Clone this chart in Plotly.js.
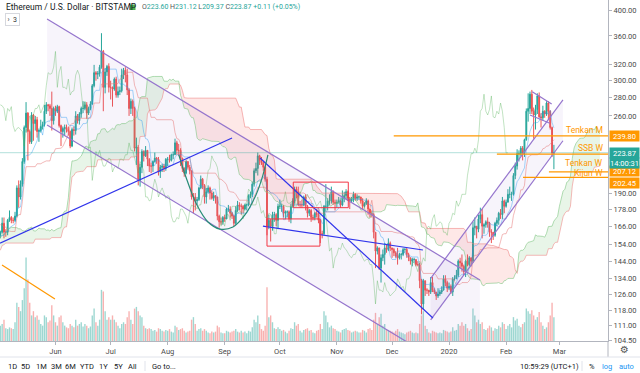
<!DOCTYPE html>
<html><head><meta charset="utf-8">
<script src="https://cdn.plot.ly/plotly-3.0.1.min.js"></script>
<style>html,body{margin:0;padding:0;background:#fff}#chart{width:640px;height:373px}</style>
</head><body><div id="chart"></div>
<script>
// ---------- DATA (ETH/USD daily, Bitstamp) ----------
const PRE_START = '2019-02-14';   // history used only by the Ichimoku indicator (off-screen)
const VIS_START = '2019-05-02';
const preHigh = [123,125,127,137,149,152,150,150,150,164,165,141,140,140,140,
  139,137,135,133,140,141,141,141,139,138,138,135,134,134,138,146,145,144,141,140,140,139,140,140,140,135,143,142,145,145,144,
  146,173,180,167,168,172,182,186,180,183,178,167,167,167,170,168,171,176,175,177,175,174,175,171,166,157,159,160,160,164,
  162];
const preLow = [118,119,121,122,133,140,142,141,143,146,133,134,134,129,133,
  134,131,129,124,124,136,137,133,134,134,131,131,130,129,132,136,139,137,137,136,134,135,136,136,131,131,133,138,139,140,140,
  140,143,160,155,160,162,168,173,172,172,158,160,161,162,157,159,164,169,169,170,166,165,167,161,149,148,153,154,153,155,
  157];
const firstOpen = 160;
const close = [
  162,168,162,162,170,172,170,170,173,194,187,197,216,248,263,244,234,261,252,256,244,245,249,251,265,272,271,268,255,268,
  265,270,250,244,247,248,246,244,230,246,245,260,255,262,268,268,272,263,268,273,294,310,308,309,317,338,292,311,318,292,
  292,290,302,283,287,288,307,313,307,289,268,276,268,228,229,200,211,225,221,226,218,212,212,216,219,218,207,211,212,210,218,
  218,217,222,222,233,226,226,219,210,206,216,211,208,187,187,184,185,194,201,196,187,191,194,190,186,188,187,173,169,169,172,
  171,178,178,175,173,168,177,181,180,180,178,181,181,188,189,197,208,210,221,217,215,211,201,166,170,166,174,174,170,180,
  180,180,175,176,176,171,180,184,193,191,181,181,181,187,180,175,177,172,172,175,174,170,161,161,180,180,184,184,191,183,182,
  183,184,181,186,188,191,186,184,185,189,186,187,187,184,180,182,184,178,175,174,162,150,152,140,146,148,152,151,155,152,
  151,149,147,146,148,148,151,151,148,146,144,145,145,142,142,133,121,133,128,128,127,132,128,127,125,126,127,128,134,132,129,
  130,127,134,134,136,144,143,141,138,144,142,146,144,165,166,164,171,174,166,167,169,168,162,162,160,168,170,175,174,184,180,
  183,189,189,189,204,212,223,223,228,224,236,265,268,284,265,261,267,282,259,258,265,262,274,265,248,223.60,223.87];
const high = [
  163,172,172,164,171,177,173,172,176,196,200,200,219,250,275,264,246,264,262,260,259,247,256,254,272,275,273,273,287,270,
  271,272,271,251,249,251,251,249,245,248,249,265,262,264,270,276,275,275,270,276,296,320,312,312,320,364,340,316,320,322,
  300,293,304,305,293,293,315,316,317,315,291,279,278,270,238,231,214,227,226,230,226,219,215,217,224,220,220,213,214,214,219,
  220,222,223,225,237,235,232,228,219,211,217,216,213,208,190,190,187,195,204,202,197,194,196,195,192,191,188,187,174,172,173,
  174,179,181,180,176,174,180,184,183,182,181,182,182,189,191,199,210,215,224,222,220,216,212,203,174,171,176,176,175,182,
  185,182,181,177,177,177,182,186,195,195,195,184,185,188,189,181,178,178,174,176,178,177,171,163,181,197,186,189,195,192,185,
  185,187,185,192,191,193,192,187,187,191,190,189,188,187,186,183,186,185,178,177,175,162,153,152,148,151,155,154,158,156,
  152,152,150,152,149,149,152,152,152,149,146,146,146,145,144,143,134,134,133,129,128,135,135,129,127,129,128,130,136,136,133,
  132,131,135,136,139,145,146,148,142,145,148,147,146,169,172,166,174,179,178,168,170,172,169,164,162,169,172,176,178,187,185,
  185,193,195,191,206,215,227,226,230,230,237,268,285,287,289,269,272,285,286,263,271,266,276,276,266,249,231.12];
const low = [
  158,161,158,159,160,169,168,168,169,172,179,185,195,214,243,217,232,232,235,245,238,234,243,246,249,262,265,260,245,251,
  260,263,248,230,238,240,243,240,228,229,240,241,252,251,258,263,266,257,261,266,272,292,300,302,305,315,265,285,306,286,
  278,270,288,280,280,283,286,302,298,283,260,262,260,225,213,196,195,206,216,220,212,207,206,207,215,214,204,202,207,207,208,
  212,215,216,218,222,222,221,212,207,203,205,209,205,185,175,177,181,184,193,193,182,182,190,185,185,184,182,170,165,167,167,
  169,171,176,172,171,166,167,176,177,174,175,177,177,180,186,187,195,206,204,213,213,208,199,160,164,156,163,169,166,164,
  178,176,172,171,172,169,168,179,182,186,180,179,179,180,177,172,173,169,170,170,172,168,155,158,160,176,177,181,182,181,177,
  179,182,179,180,183,186,184,178,183,183,184,184,185,182,178,179,181,174,172,172,158,140,148,139,132,144,142,149,150,150,
  146,147,146,142,145,145,147,149,146,144,142,141,143,141,141,129,116,118,125,126,125,126,127,126,123,124,125,126,128,130,127,
  128,126,125,133,134,135,140,138,136,135,141,141,141,143,160,158,162,168,158,161,165,165,159,155,157,159,166,167,171,171,175,
  179,183,186,184,188,201,209,216,221,217,220,235,254,262,262,237,246,262,258,248,255,258,260,256,246,220,209.37];
const volume = [
  18,20,25,15,14,16,15,14,22,45,40,35,48,62,98,72,45,30,35,28,30,25,20,18,30,28,22,24,42,30,
  22,18,28,30,22,18,16,15,20,18,16,25,18,20,22,17,20,18,15,17,30,38,22,18,25,60,58,35,25,28,
  25,30,25,22,18,15,20,22,20,28,35,25,20,38,40,35,30,28,18,15,14,15,14,12,13,11,15,14,12,11,13,
  12,14,11,10,18,16,13,14,15,12,10,11,12,25,28,20,12,14,15,12,14,12,10,9,11,10,11,18,16,10,9,
  9,12,11,10,11,12,14,11,10,12,10,11,9,12,11,16,25,22,30,20,14,12,18,63,28,30,22,15,14,16,
  14,12,13,11,9,12,15,14,22,18,20,12,10,13,14,15,12,13,10,9,12,13,20,14,35,30,22,16,18,15,14,
  12,11,10,13,14,15,13,12,10,11,12,11,10,10,13,12,10,14,15,13,25,33,20,28,32,18,20,14,13,12,
  11,10,12,14,11,10,9,8,10,11,12,10,9,10,9,20,30,35,18,14,10,9,12,11,10,9,10,9,13,12,11,
  10,11,16,12,13,20,18,22,18,20,15,12,14,38,30,22,25,20,22,14,13,15,18,16,12,15,14,18,16,22,20,
  14,18,20,16,28,24,26,18,16,20,22,38,35,32,36,30,25,28,34,22,18,14,16,22,30,45,28];

// axis labels
const monthTicks = ['2019-06-01','2019-07-01','2019-08-01','2019-09-01','2019-10-01','2019-11-01','2019-12-01','2020-01-01','2020-02-01','2020-03-01'];
const monthLabels = ['Jun','Jul','Aug','Sep','Oct','Nov','Dec','2020','Feb','Mar'];
const priceTicks = [104.5,111,118,126,134,144,154,166,178,190,260,280,300,320,360,400];

// drawings (anchor points: date, price)
const descDates = ['2019-05-27 10:00','2020-01-17 19:00'];
const descUpper = [385.6,133.4];
const descLower = [250.6,86.7];
const ascDates = ['2019-12-22 00:00','2020-03-02 22:00'];
const ascUpper = [134.3,277.4];
const ascLower = [113.4,235.0];
const flagUpperDates = ['2020-02-15 05:00','2020-02-25 19:00'];
const flagUpper = [286.9,272.9];
const flagLowerDates = ['2020-02-14 00:00','2020-02-24 19:00'];
const flagLower = [261.0,252.3];
const blueADates = ['2019-05-01 20:00','2019-09-05 00:00'];
const blueA = [155.0,237.7];
const blueBDates = ['2019-09-21 19:00','2019-12-17 19:00'];
const blueB = [166.1,150.7];
const blueCDates = ['2019-09-20 05:00','2019-12-23 05:00'];
const blueC = [219.1,114.3];
const orangeTrendDates = ['2019-05-02 22:00','2019-05-31 17:00'];
const orangeTrend = [141.8,123.5];
const arcDates = ['2019-08-07 02:00','2019-08-11 12:00','2019-08-16 22:00','2019-08-22 22:00','2019-08-29 10:00','2019-09-05 12:00','2019-09-12 00:00','2019-09-18 00:00','2019-09-21 19:00','2019-09-24 12:00'];
const arcPrices = [221.8,200.3,180.9,168.9,164.1,165.5,173.8,188.5,204.4,221.8];
const rect1Dates = ['2019-09-24 00:00','2019-10-22 19:00'];
const rect1Prices = [171.0,153.1];
const rect2Dates = ['2019-10-08 07:00','2019-11-07 05:00'];
const rect2Prices = [198.6,179.0];
const levelNames = ['Tenkan M','SSB W','Tenkan W','Kijun W'];
const levelPrices = [239.80,222.6,207.12,202.45];
const levelStarts = ['2019-12-01 22:00','2020-01-27 00:00','2020-02-24 07:00','2020-02-10 05:00'];
const lastPrice = 223.87;
const countdown = '14:00:31';

// ---------- BUILD ----------
const X_RANGE = ['2019-05-01 20:00','2020-03-27 10:00'];
function addDays(s,n){const p=s.split('-');return new Date(Date.UTC(+p[0],+p[1]-1,+p[2])+n*86400000).toISOString().slice(0,10);}
const dates = close.map((_,i)=>addDays(VIS_START,i));
const open = [firstOpen].concat(close.slice(0,-1));
const PRE = preHigh.length;
const H = preHigh.concat(high), L = preLow.concat(low), N = H.length;
function mid(p,i){let hi=-Infinity,lo=Infinity;for(let j=Math.max(0,i-p+1);j<=i;j++){if(H[j]>hi)hi=H[j];if(L[j]<lo)lo=L[j];}return (hi+lo)/2;}
const tenkan=[],kijun=[];
for(let i=PRE;i<N;i++){tenkan.push(mid(9,i));kijun.push(mid(26,i));}
const leadDates=[],spanA=[],spanB=[];
for(let i=PRE-25;i<N;i++){leadDates.push(addDays(PRE_START,i+25));spanA.push((mid(9,i)+mid(26,i))/2);spanB.push(mid(52,i));}
const spanMax = spanA.map((a,i)=>Math.max(a,spanB[i]));
const chikDates=[],chik=[];
for(let i=25;i<close.length;i++){chikDates.push(dates[i-25]);chik.push(close[i]);}

const UP='#26a69a', DN='#ef5350';
const volColors = close.map((c,i)=> c>=open[i] ? 'rgba(38,166,154,0.45)' : 'rgba(239,83,80,0.45)');
const PURPLE='rgb(149,117,205)', BLUE='rgb(48,52,235)', ORANGE='#ff9800';

function ln(x,y,color,w,extra){return Object.assign({type:'scatter',mode:'lines',x:x,y:y,yaxis:'y2',line:{color:color,width:w},hoverinfo:'skip',showlegend:false},extra||{});}
function poly(x,y,fill){return {type:'scatter',mode:'lines',x:x,y:y,yaxis:'y2',fill:'toself',fillcolor:fill,line:{width:0},hoverinfo:'skip',showlegend:false};}

const traces = [];
traces.push({type:'bar',x:dates,y:volume,yaxis:'y',marker:{color:volColors},hoverinfo:'skip',showlegend:false});
// channel fills
traces.push(poly([descDates[0],descDates[1],descDates[1],descDates[0]],[descUpper[0],descUpper[1],descLower[1],descLower[0]],'rgba(149,117,205,0.08)'));
traces.push(poly([ascDates[0],ascDates[1],ascDates[1],ascDates[0]],[ascUpper[0],ascUpper[1],ascLower[1],ascLower[0]],'rgba(149,117,205,0.08)'));
// Ichimoku cloud
traces.push(ln(leadDates,spanB,'rgba(239,130,130,0.55)',1));
traces.push(ln(leadDates,spanMax,'rgba(0,0,0,0)',0,{fill:'tonexty',fillcolor:'rgba(76,175,80,0.13)'}));
traces.push(ln(leadDates,spanA,'rgba(129,199,132,0.6)',1));
traces.push(ln(leadDates,spanMax,'rgba(0,0,0,0)',0,{fill:'tonexty',fillcolor:'rgba(244,67,54,0.12)'}));
traces.push(ln(chikDates,chik,'rgba(76,175,80,0.35)',1));
traces.push(ln(dates,kijun,'rgba(229,115,115,0.5)',1));
traces.push(ln(dates,tenkan,'rgba(33,150,243,0.4)',1));
// last price line
traces.push(ln(X_RANGE,[lastPrice,lastPrice],'rgba(38,166,154,0.35)',1));
// candles
traces.push({type:'candlestick',x:dates,open:open,high:high,low:low,close:close,yaxis:'y2',
  increasing:{line:{color:UP,width:1},fillcolor:UP},decreasing:{line:{color:DN,width:1},fillcolor:DN},
  whiskerwidth:0,hoverinfo:'skip',showlegend:false});
// drawings
traces.push(ln(descDates,descUpper,PURPLE,1.2));
traces.push(ln(descDates,descLower,PURPLE,1.2));
traces.push(ln(ascDates,ascUpper,PURPLE,1.2));
traces.push(ln(ascDates,ascLower,PURPLE,1.2));
traces.push(ln(flagUpperDates,flagUpper,PURPLE,1.2));
traces.push(ln(flagLowerDates,flagLower,PURPLE,1.2));
traces.push(ln(blueADates,blueA,BLUE,1.2));
traces.push(ln(blueBDates,blueB,BLUE,1.2));
traces.push(ln(blueCDates,blueC,BLUE,1.2));
traces.push(ln(orangeTrendDates,orangeTrend,ORANGE,1.2));
traces.push(ln(arcDates,arcPrices,'rgb(38,140,118)',1.2,{line:{color:'rgb(38,140,118)',width:1.2,shape:'spline'}}));
[[rect1Dates,rect1Prices],[rect2Dates,rect2Prices]].forEach(([d,p])=>{
  traces.push(ln([d[0],d[1],d[1],d[0],d[0]],[p[0],p[0],p[1],p[1],p[0]],'rgb(242,54,69)',1));
});
levelNames.forEach((n,i)=>traces.push(ln([levelStarts[i],X_RANGE[1]],[levelPrices[i],levelPrices[i]],ORANGE,1.2)));

// ---------- LAYOUT ----------
const FONT='Roboto, "Open Sans", sans-serif';
const PH=341, PW=608;
const py = v => (PH - v)/PH;   // pixel y -> paper
const px = v => v/PW;          // pixel x -> paper
const ann = [];
ann.push({xref:'paper',yref:'paper',x:px(4),y:py(7.5),xanchor:'left',yanchor:'middle',showarrow:false,
  text:'Ethereum / U.S. Dollar · BITSTAMP',font:{family:FONT,size:8.5,color:'#131722'}});
ann.push({xref:'paper',yref:'paper',x:px(140),y:py(7.5),xanchor:'left',yanchor:'middle',showarrow:false,
  text:'O<span style="color:#26a69a">223.60</span> H<span style="color:#26a69a">231.12</span> L<span style="color:#26a69a">209.37</span> C<span style="color:#26a69a">223.87</span> <span style="color:#26a69a">+0.11 (+0.05%)</span>',
  font:{family:FONT,size:7,color:'#555'}});
ann.push({xref:'paper',yref:'paper',x:px(5),y:py(19.5),xanchor:'left',yanchor:'middle',showarrow:false,
  text:'›  3',font:{family:FONT,size:7,color:'#333'},bordercolor:'#d6d8de',borderwidth:1,borderpad:1.5,bgcolor:'#fff'});
// orange level labels
const levelShift = [-1,-1,2,-3];
levelNames.forEach((n,i)=>ann.push({xref:'paper',yref:'y2',x:px(605),y:Math.log10(levelPrices[i]),xanchor:'right',yanchor:'bottom',
  showarrow:false,text:n,font:{family:FONT,size:8.5,color:ORANGE},yshift:levelShift[i]}));
// right price boxes
function box(price,txt,bg,shift){return {xref:'paper',yref:'y2',x:1,y:Math.log10(price),xanchor:'left',yanchor:'middle',xshift:1,yshift:shift||0,
  showarrow:false,text:txt,bgcolor:bg,font:{family:FONT,size:7.5,color:'#fff'},width:28,height:9,borderpad:0.5,align:'center'};}
ann.push(box(levelPrices[0],levelPrices[0].toFixed(2),ORANGE));
ann.push(box(levelPrices[3],levelPrices[3].toFixed(2),ORANGE,-5.5));
ann.push(box(levelPrices[2],levelPrices[2].toFixed(2),ORANGE,0.5));
ann.push(box(lastPrice,lastPrice.toFixed(2),'#26a69a'));
ann.push(box(lastPrice,countdown,'#26a69a',-10));
// bottom toolbar
const tb = [['1D',12],['5D',25],['1M',41],['3M',56],['6M',70],['YTD',87],['1Y',103],['5Y',118],['All',132],['Go to...',164]];
tb.forEach(([t,x])=>ann.push({xref:'paper',yref:'paper',x:px(x),y:py(366),xanchor:'center',yanchor:'middle',showarrow:false,text:t,font:{family:FONT,size:7.5,color:'#131722'}}));
ann.push({xref:'paper',yref:'paper',x:px(549),y:py(366),xanchor:'center',yanchor:'middle',showarrow:false,text:'10:59:29 (UTC+1)',font:{family:FONT,size:7.5,color:'#131722'}});
ann.push({xref:'paper',yref:'paper',x:px(592),y:py(366),xanchor:'center',yanchor:'middle',showarrow:false,text:'%',font:{family:FONT,size:7.5,color:'#131722'}});
ann.push({xref:'paper',yref:'paper',x:px(607),y:py(366),xanchor:'center',yanchor:'middle',showarrow:false,text:'log',font:{family:FONT,size:7.5,color:'#2196f3'}});
ann.push({xref:'paper',yref:'paper',x:px(626),y:py(366),xanchor:'center',yanchor:'middle',showarrow:false,text:'auto',font:{family:FONT,size:7.5,color:'#2196f3'}});
ann.push({xref:'paper',yref:'paper',x:px(624),y:py(349),xanchor:'center',yanchor:'middle',showarrow:false,text:'⚙',font:{family:'DejaVu Sans',size:10,color:'#555'}});

const shapes = [
  {type:'rect',xref:'paper',yref:'paper',x0:px(130),x1:px(135.5),y0:py(10),y1:py(4.5),fillcolor:'#4caf50',line:{width:0}},
  {type:'line',xref:'paper',yref:'paper',x0:px(145),x1:px(145),y0:py(361),y1:py(371),line:{color:'#e0e3eb',width:1}},
  {type:'line',xref:'paper',yref:'paper',x0:px(582),x1:px(582),y0:py(361),y1:py(371),line:{color:'#e0e3eb',width:1}},
  {type:'line',xref:'paper',yref:'paper',x0:1,x1:1,y0:py(341),y1:py(357),line:{color:'#b2b5be',width:1}},
  {type:'line',xref:'paper',yref:'paper',x0:0,x1:px(640),y0:py(357),y1:py(357),line:{color:'#e0e3eb',width:1}}
];

const layout = {
  width:640,height:373,margin:{l:0,r:32,t:0,b:32},
  paper_bgcolor:'#fff',plot_bgcolor:'#fff',showlegend:false,
  font:{family:FONT,size:8,color:'#4a4a4a'},
  bargap:0.25,
  xaxis:{type:'date',range:X_RANGE,tickvals:monthTicks,ticktext:monthLabels,showgrid:false,zeroline:false,
    showline:true,linecolor:'#b2b5be',linewidth:1,ticks:'outside',ticklen:3,tickcolor:'#b2b5be',
    tickfont:{family:FONT,size:7.5,color:'#4a4a4a'},rangeslider:{visible:false},fixedrange:true},
  yaxis:{range:[0,400],visible:false,fixedrange:true},
  yaxis2:{overlaying:'y',side:'right',type:'log',range:[2.01735,2.61973],tickvals:priceTicks,
    ticktext:priceTicks.map(v=>v.toFixed(2)),showgrid:false,zeroline:false,showline:true,linecolor:'#b2b5be',linewidth:1,
    ticks:'outside',ticklen:3,tickcolor:'#b2b5be',tickfont:{family:FONT,size:7.5,color:'#4a4a4a'},fixedrange:true},
  annotations:ann,shapes:shapes
};
Plotly.newPlot('chart',traces,layout,{staticPlot:true,displayModeBar:false});
</script></body></html>
